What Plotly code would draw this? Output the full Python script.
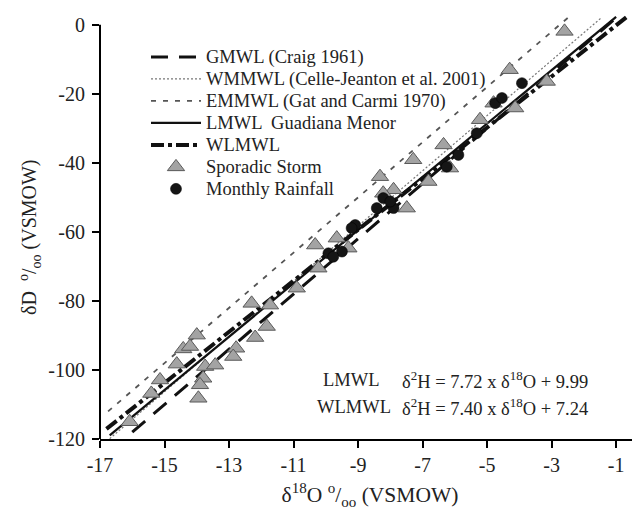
import plotly.graph_objects as go

# ---------------- data ----------------
# Sporadic storm samples (δ18O, δD)
storm_o18 = [-2.6, -4.3, -3.15, -4.13, -4.8, -5.22, -6.35, -7.29, -8.32, -6.82,
             -6.15, -7.9, -8.22, -7.49, -10.33, -9.66, -9.3, -10.23, -10.9, -12.3,
             -11.73, -11.83, -12.19, -14.0, -14.42, -14.21, -14.62, -13.74, -13.43,
             -12.78, -12.87, -13.8, -13.9, -13.95, -15.14, -15.41, -16.08]
storm_d = [-1.9, -13.0, -16.4, -24.1, -22.7, -27.5, -34.8, -39.1, -44.0, -45.4,
           -41.5, -47.8, -48.8, -53.1, -63.8, -61.8, -64.7, -70.5, -76.3, -80.7,
           -81.2, -87.4, -90.6, -89.9, -93.9, -93.2, -98.3, -99.0, -98.6,
           -93.7, -96.1, -102.4, -104.3, -108.2, -102.9, -106.8, -115.0]

# Monthly rainfall samples
month_o18 = [-3.92, -4.75, -4.54, -5.89, -6.25, -5.32, -8.22, -8.42, -7.9, -8.0,
             -9.09, -9.2, -9.92, -9.5, -9.77]
month_d = [-16.9, -22.7, -21.2, -37.7, -41.1, -31.4, -50.2, -53.1, -53.1, -51.2,
           -58.0, -58.9, -66.2, -65.7, -67.2]

# Meteoric water lines: slope, intercept, drawn δ18O extent
line_names = ["GMWL (Craig 1961)", "WMMWL (Celle-Jeanton et al. 2001)",
              "EMMWL (Gat and Carmi 1970)", "LMWL  Guadiana Menor", "WLMWL"]
line_slopes = [8.0, 8.0, 8.0, 7.72, 7.40]
line_intercepts = [10.0, 13.7, 22.0, 9.99, 7.24]
line_x_start = [-16.0, -16.7, -16.75, -16.7, -16.8]
line_x_end = [-1.0, -1.45, -2.45, -1.0, -0.68]

x_ticks = [-17, -15, -13, -11, -9, -7, -5, -3, -1]
y_ticks = [-120, -100, -80, -60, -40, -20, 0]

# ---------------- styles ----------------
line_styles = [
    dict(color="#111111", width=3, dash="17px,11px"),
    dict(color="#777777", width=1.2, dash="2px,2px"),
    dict(color="#555555", width=1.8, dash="5px,7px"),
    dict(color="#111111", width=2.2, dash="solid"),
    dict(color="#111111", width=4, dash="13px,4px,4px,4px"),
]

FONT = "Liberation Serif"
TXT = "#222222"

# page geometry (the page body adds an 8px offset)
PAGE_OFF = 8
PL, PT, PR, PB = 100, 11, 640, 439   # plot area in page pixels
PW, PH = PR - PL, PB - PT


def px(xp):
    return (xp - PL) / PW


def py(yp):
    return 1 - (yp - PT) / PH


fig = go.Figure()

for name, m, b, x0, x1, st in zip(line_names, line_slopes, line_intercepts,
                                  line_x_start, line_x_end, line_styles):
    xs = [x0, x1]
    ys = [m * v + b for v in xs]
    fig.add_trace(go.Scatter(
        x=xs, y=ys, mode="lines", line=st,
        name='<span style="font-size:18.5px">' + name + '</span>'))

fig.add_trace(go.Scatter(
    x=storm_o18, y=storm_d, mode="markers",
    name='<span style="font-size:18.5px">Sporadic Storm</span>',
    marker=dict(symbol="triangle-up", size=15, color="#a3a3a3",
                line=dict(color="#5a5a5a", width=1))))

fig.add_trace(go.Scatter(
    x=month_o18, y=month_d, mode="markers",
    name='<span style="font-size:18.5px">Monthly Rainfall</span>',
    marker=dict(symbol="circle", size=11, color="#151515",
                line=dict(color="#000000", width=0.5))))

# y axis line drawn only over the labelled range
fig.add_shape(type="line", xref="paper", yref="y", x0=0, x1=0, y0=-120, y1=0,
              line=dict(color="black", width=2))

ann_font = dict(family=FONT, size=18.5, color=TXT)
fig.add_annotation(text="LMWL", xref="paper", yref="paper",
                   x=px(351), y=py(380), showarrow=False,
                   xanchor="center", yanchor="middle", font=ann_font)
fig.add_annotation(text="WLMWL", xref="paper", yref="paper",
                   x=px(354), y=py(407), showarrow=False,
                   xanchor="center", yanchor="middle", font=ann_font)
fig.add_annotation(text="δ<sup>2</sup>H = 7.72 x δ<sup>18</sup>O + 9.99",
                   xref="paper", yref="paper", x=px(400), y=py(380),
                   showarrow=False, xanchor="left", yanchor="middle",
                   font=ann_font)
fig.add_annotation(text="δ<sup>2</sup>H = 7.40 x δ<sup>18</sup>O + 7.24",
                   xref="paper", yref="paper", x=px(400), y=py(407),
                   showarrow=False, xanchor="left", yanchor="middle",
                   font=ann_font)

# y-axis title
fig.add_annotation(text="δD  <sup>o</sup>/<sub>oo</sub> (VSMOW)",
                   xref="paper", yref="y", x=px(30), y=-60, yshift=-6,
                   textangle=-90, showarrow=False,
                   xanchor="center", yanchor="middle",
                   font=dict(family=FONT, size=20, color=TXT))

fig.update_layout(
    width=640 - PAGE_OFF, height=518 - PAGE_OFF,
    margin=dict(l=PL - PAGE_OFF, r=(640 - PAGE_OFF) - (PR - PAGE_OFF),
                t=PT - PAGE_OFF, b=(518 - PAGE_OFF) - (PB - PAGE_OFF)),
    paper_bgcolor="white", plot_bgcolor="white",
    font=dict(family=FONT, color=TXT),
    showlegend=True,
    legend=dict(x=px(146), y=py(41),
                xanchor="left", yanchor="top",
                bgcolor="rgba(0,0,0,0)", borderwidth=0,
                font=dict(family=FONT, size=14.6, color=TXT),
                tracegroupgap=0, itemwidth=50),
    xaxis=dict(range=[-17, -0.26], tickvals=x_ticks,
               ticktext=[str(v) for v in x_ticks],
               showline=True, linecolor="black", linewidth=2,
               ticks="outside", ticklen=7, tickwidth=2, tickcolor="black",
               showgrid=False, zeroline=False,
               tickfont=dict(family=FONT, size=20, color=TXT),
               title=dict(text="δ<sup>18</sup>O <sup>o</sup>/<sub>oo</sub> (VSMOW)",
                          font=dict(family=FONT, size=21.5, color=TXT),
                          standoff=12)),
    yaxis=dict(range=[-120, 4], tickvals=y_ticks,
               ticktext=[str(v) for v in y_ticks],
               showline=False,
               ticks="outside", ticklen=7, tickwidth=2, tickcolor="black",
               ticklabelstandoff=3,
               showgrid=False, zeroline=False,
               tickfont=dict(family=FONT, size=20, color=TXT)),
)

fig.write_html("out.html")
